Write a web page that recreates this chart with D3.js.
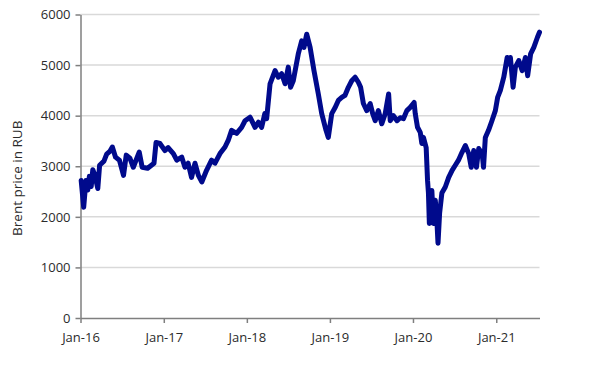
<!DOCTYPE html>
<html>
<head>
<meta charset="utf-8">
<script src="https://cdn.jsdelivr.net/npm/d3@7"></script>
<style>
  html, body { margin: 0; padding: 0; background: #ffffff; }
  svg { display: block; }
</style>
</head>
<body>
<svg id="chart" width="590" height="368"></svg>
<script>
// ---- Data ----
const dates = [
  "2016-01-04","2016-01-15","2016-01-25","2016-02-02","2016-02-09","2016-02-17","2016-02-24","2016-03-03","2016-03-17","2016-03-25",
  "2016-04-13","2016-04-25","2016-05-10","2016-05-20","2016-06-03","2016-06-20","2016-07-08","2016-07-20","2016-08-05","2016-08-20",
  "2016-09-15","2016-09-28","2016-10-22","2016-11-19","2016-11-28","2016-12-15",
  "2017-01-06","2017-01-20","2017-02-12","2017-02-27","2017-03-21","2017-04-04","2017-04-18","2017-05-03","2017-05-18","2017-06-02",
  "2017-06-17","2017-07-08","2017-07-30","2017-08-14","2017-09-05","2017-09-27","2017-10-11","2017-10-26","2017-11-17","2017-12-09",
  "2017-12-24","2018-01-15","2018-02-06","2018-02-21","2018-03-07","2018-03-21","2018-03-29","2018-04-13","2018-05-05","2018-05-19",
  "2018-06-03","2018-06-18","2018-07-02","2018-07-12","2018-07-24","2018-08-15","2018-08-30","2018-09-09","2018-09-21","2018-10-06",
  "2018-10-23","2018-11-11","2018-11-26","2018-12-15","2018-12-25",
  "2019-01-09","2019-01-24","2019-02-07","2019-02-22","2019-03-08","2019-03-23","2019-04-07","2019-04-22","2019-05-06","2019-05-16",
  "2019-05-28","2019-06-12","2019-06-27","2019-07-08","2019-07-19","2019-08-02","2019-08-17","2019-09-01","2019-09-16","2019-09-23",
  "2019-10-07","2019-10-23","2019-11-06","2019-11-20","2019-12-05","2019-12-19",
  "2020-01-06","2020-01-11","2020-01-21","2020-02-02","2020-02-09","2020-02-16","2020-02-28","2020-03-05","2020-03-09","2020-03-13",
  "2020-03-24","2020-03-31","2020-04-08","2020-04-15","2020-04-20","2020-04-27","2020-05-07","2020-05-22","2020-06-06","2020-06-21",
  "2020-07-05","2020-07-19","2020-08-03","2020-08-18","2020-09-02","2020-09-13","2020-09-24","2020-10-06","2020-10-16","2020-10-31",
  "2020-11-06","2020-11-14","2020-11-28","2020-12-13","2020-12-28",
  "2021-01-07","2021-01-19","2021-02-03","2021-02-18","2021-02-25","2021-03-04","2021-03-16","2021-03-26","2021-04-10","2021-04-25",
  "2021-05-09","2021-05-19","2021-06-01","2021-06-15","2021-07-01","2021-07-10"
];
const brentRub = [
  2720,2190,2720,2530,2800,2600,2930,2840,2560,3020,
  3100,3240,3300,3380,3180,3120,2820,3220,3160,2980,
  3280,2980,2960,3060,3470,3450,
  3310,3370,3250,3120,3180,2980,3060,2780,3060,2820,
  2690,2920,3120,3060,3250,3380,3510,3710,3650,3770,
  3900,3970,3770,3870,3770,4040,3940,4630,4890,4760,
  4830,4630,4960,4560,4690,5220,5480,5350,5610,5350,
  4890,4430,4040,3710,3570,
  4040,4160,4300,4360,4400,4560,4690,4760,4660,4560,
  4240,4100,4240,4040,3900,4100,3840,4040,4430,3900,
  4000,3900,3960,3940,4100,4160,
  4260,4040,3770,3670,3450,3570,3370,2720,2470,1870,
  2520,1870,2330,1930,1480,2070,2470,2590,2780,2920,
  3020,3120,3270,3410,3250,2980,3310,2980,3350,3250,
  2980,3570,3710,3900,4100,
  4360,4500,4760,5150,5020,5150,4560,4960,5090,4890,
  5150,4790,5220,5350,5550,5650
];
const yTicks = [0, 1000, 2000, 3000, 4000, 5000, 6000];
const xTickDates = ["2016-01-01","2017-01-01","2018-01-01","2019-01-01","2020-01-01","2021-01-01"];
const xTickLabels = ["Jan-16","Jan-17","Jan-18","Jan-19","Jan-20","Jan-21"];
const yLabel = "Brent price in RUB";

// ---- Chart ----
const parse = d3.timeParse("%Y-%m-%d");
const series = dates.map((d, i) => ({ date: parse(d), value: brentRub[i] }));

const svg = d3.select("#chart");
const plotLeft = 80.5, plotRight = 539.5, plotTop = 14.5, plotBottom = 318;

const x = d3.scaleTime()
  .domain([parse("2016-01-01"), parse("2021-07-10")])
  .range([plotLeft, plotRight]);
const y = d3.scaleLinear().domain([0, 6000]).range([plotBottom, plotTop]);

const font = "'Open Sans', 'Liberation Sans', sans-serif";
const textColor = "#2b2b2b";
const axisColor = "#7f7f7f";

// gridlines
svg.append("g")
  .selectAll("line")
  .data(yTicks.filter(t => t > 0))
  .join("line")
  .attr("x1", plotLeft).attr("x2", plotRight)
  .attr("y1", d => y(d)).attr("y2", d => y(d))
  .attr("stroke", "#d9d9d9").attr("stroke-width", 1.5);

// y axis
const yAxis = svg.append("g")
  .attr("transform", `translate(${plotLeft},0)`)
  .call(d3.axisLeft(y).tickValues(yTicks).tickSize(5).tickSizeOuter(0).tickPadding(5).tickFormat(d3.format("d")));
yAxis.select(".domain").attr("stroke", axisColor).attr("stroke-width", 1.5);
yAxis.selectAll(".tick line").attr("stroke", axisColor).attr("stroke-width", 1.5);
yAxis.selectAll("text").attr("fill", textColor).style("font-family", font).style("font-size", "13px");

// x axis
const xAxis = svg.append("g")
  .attr("transform", `translate(0,${plotBottom})`)
  .call(d3.axisBottom(x)
    .tickValues(xTickDates.map(parse))
    .tickSize(5).tickSizeOuter(0).tickPadding(10)
    .tickFormat((d, i) => xTickLabels[i]));
xAxis.select(".domain").attr("stroke", axisColor).attr("stroke-width", 1.5);
xAxis.selectAll(".tick line").attr("stroke", axisColor).attr("stroke-width", 1.5);
xAxis.selectAll("text").attr("fill", textColor).style("font-family", font).style("font-size", "13px");

// y label
svg.append("text")
  .attr("transform", `translate(22,${(plotTop + plotBottom) / 2 + 12}) rotate(-90)`)
  .attr("text-anchor", "middle")
  .attr("fill", textColor)
  .style("font-family", font)
  .style("font-size", "13.5px")
  .text(yLabel);

// line
const line = d3.line().x(d => x(d.date)).y(d => y(d.value));
svg.append("path")
  .datum(series)
  .attr("fill", "none")
  .attr("stroke", "#000a8c")
  .attr("stroke-width", 5)
  .attr("stroke-linejoin", "round")
  .attr("stroke-linecap", "round")
  .attr("d", line);
</script>
</body>
</html>
